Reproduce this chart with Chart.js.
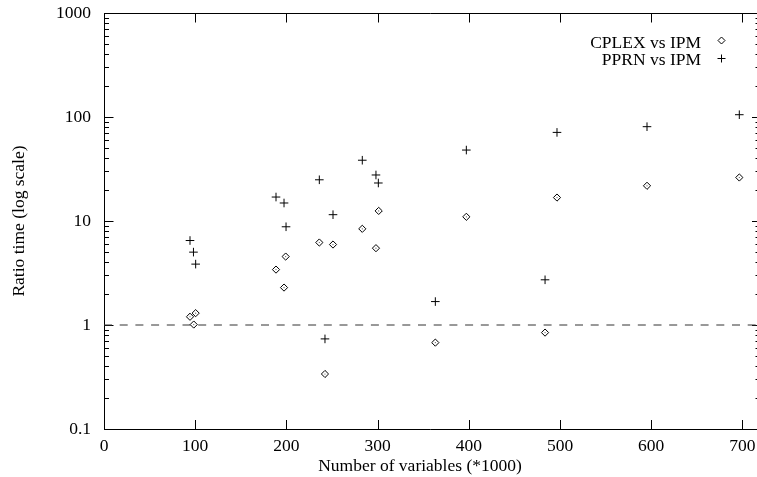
<!DOCTYPE html>
<html>
<head>
<meta charset="utf-8">
<script src="https://cdn.jsdelivr.net/npm/chart.js@4.4.1/dist/chart.umd.min.js"></script>
<style>
html,body{margin:0;padding:0;background:#fff;}
#wrap{width:757px;height:477px;}
</style>
</head>
<body>
<div id="wrap"><canvas id="c" width="757" height="477"></canvas></div>
<script>
// ---- data ----
const cplexX = [94.3, 98.4, 100.5, 188.6, 197.4, 199.2, 236.1, 242.3, 251.1, 283.2, 298.2, 301.2, 363.3, 397.3, 483.6, 496.7, 595.4, 696.6];
const cplexY = [1.20, 1.01, 1.30, 3.41, 2.29, 4.55, 6.21, 0.338, 5.94, 8.41, 5.48, 12.5, 0.677, 10.97, 0.845, 16.8, 21.8, 26.2];
const pprnX  = [94.3, 98.1, 100.5, 188.6, 197.4, 199.6, 236.1, 242.3, 251.1, 283.2, 298.2, 300.8, 363.3, 397.3, 483.6, 496.7, 595.4, 696.6];
const pprnY  = [6.49, 5.02, 3.85, 17.0, 14.9, 8.8, 24.9, 0.735, 11.5, 38.4, 27.7, 23.2, 1.68, 48.1, 2.72, 71.1, 80.7, 105.2];
const xTicks = [0, 100, 200, 300, 400, 500, 600, 700];
const yTicks = [0.1, 1, 10, 100, 1000];
const seriesNames = ['CPLEX vs IPM', 'PPRN vs IPM'];
const xTitle = 'Number of variables (*1000)';
const yTitle = 'Ratio time (log scale)';
const refLine = 1;
const xMin = 0, xMax = 716;

const FONT = '"Liberation Serif", "Times New Roman", serif';
const INK = '#000';
const FS = 17.5;

const pts = (xs, ys) => xs.map((x, i) => ({x: x, y: ys[i]}));

const framePlugin = {
  id: 'frame',
  beforeDatasetsDraw(chart) {
    const {ctx, chartArea: a} = chart;
    const xs = chart.scales.x, ys = chart.scales.y;
    ctx.save();
    ctx.strokeStyle = INK;
    ctx.lineWidth = 1;
    ctx.beginPath();
    ctx.moveTo(a.left + 0.5, a.top + 0.5);
    ctx.lineTo(a.left + 0.5, a.bottom + 0.5);
    ctx.lineTo(a.right, a.bottom + 0.5);
    ctx.moveTo(a.left + 0.5, a.top + 0.5);
    ctx.lineTo(a.right, a.top + 0.5);
    xTicks.forEach(v => {
      const px = Math.round(xs.getPixelForValue(v)) + 0.5;
      ctx.moveTo(px, a.bottom + 0.5); ctx.lineTo(px, a.bottom - 9);
      ctx.moveTo(px, a.top + 0.5); ctx.lineTo(px, a.top + 9.5);
    });
    for (let i = 0; i < yTicks.length; i++) {
      const d = yTicks[i];
      const py = Math.round(ys.getPixelForValue(d)) + 0.5;
      ctx.moveTo(a.left, py); ctx.lineTo(a.left + 9.5, py);
      ctx.moveTo(a.right, py); ctx.lineTo(a.right - 5, py);
      if (i < yTicks.length - 1) {
        for (let k = 2; k <= 9; k++) {
          const pm = Math.round(ys.getPixelForValue(d * k)) + 0.5;
          ctx.moveTo(a.left, pm); ctx.lineTo(a.left + 5, pm);
          ctx.moveTo(a.right, pm); ctx.lineTo(a.right - 1.5, pm);
        }
      }
    }
    ctx.stroke();
    ctx.restore();
  },
  afterDraw(chart) {
    const {ctx, chartArea: a} = chart;
    ctx.save();
    ctx.fillStyle = INK;
    ctx.font = FS + 'px ' + FONT;
    ctx.textAlign = 'center';
    ctx.textBaseline = 'middle';
    ctx.fillText(xTitle, 420, 466);
    ctx.save();
    ctx.translate(19, (a.top + a.bottom) / 2);
    ctx.rotate(-Math.PI / 2);
    ctx.fillText(yTitle, 0, 0);
    ctx.restore();
    ctx.textAlign = 'right';
    ctx.fillText(seriesNames[0], 701, 43);
    ctx.fillText(seriesNames[1], 701, 60);
    ctx.strokeStyle = INK;
    ctx.lineWidth = 1;
    const dx = 721.5, dy = 40.5, r = 3.5;
    ctx.beginPath();
    ctx.moveTo(dx, dy - r); ctx.lineTo(dx + r, dy); ctx.lineTo(dx, dy + r); ctx.lineTo(dx - r, dy); ctx.closePath();
    ctx.stroke();
    const cx = 721.5, cy = 58.5, s = 4;
    ctx.beginPath();
    ctx.moveTo(cx - s, cy); ctx.lineTo(cx + s, cy);
    ctx.moveTo(cx, cy - s); ctx.lineTo(cx, cy + s);
    ctx.stroke();
    ctx.restore();
  }
};

new Chart(document.getElementById('c'), {
  type: 'scatter',
  data: {
    datasets: [
      {
        label: seriesNames[0],
        data: pts(cplexX, cplexY),
        pointStyle: 'rectRot',
        pointRadius: 3.6,
        borderColor: INK,
        backgroundColor: 'rgba(255,255,255,0)',
        borderWidth: 1,
        order: 1
      },
      {
        label: 'dots',
        data: pts(cplexX, cplexY),
        pointStyle: 'circle',
        pointRadius: 0.6,
        borderWidth: 0,
        backgroundColor: '#555',
        order: 0
      },
      {
        label: seriesNames[1],
        data: pts(pprnX, pprnY),
        pointStyle: 'cross',
        pointRadius: 4.3,
        borderColor: INK,
        borderWidth: 1,
        order: 2
      },
      {
        type: 'line',
        label: 'ref',
        data: [{x: xMin, y: refLine}, {x: xMax, y: refLine}],
        borderColor: '#333',
        borderWidth: 1,
        borderDash: [8, 7.7],
        pointRadius: 0,
        fill: false,
        order: 10
      }
    ]
  },
  options: {
    responsive: false,
    animation: false,
    events: [],
    layout: {autoPadding: false, padding: {top: 13, right: 0, left: 0, bottom: 0}},
    plugins: {legend: {display: false}, tooltip: {enabled: false}},
    scales: {
      x: {
        type: 'linear',
        min: xMin, max: xMax,
        afterFit: s => { s.height = 48; s.paddingLeft = 0; s.paddingRight = 0; s.paddingTop = 0; s.paddingBottom = 0; },
        afterBuildTicks: s => { s.ticks = xTicks.map(v => ({value: v})); },
        grid: {display: false, drawTicks: false},
        border: {display: false},
        ticks: {color: INK, font: {family: FONT, size: FS}, padding: 7, maxRotation: 0, autoSkip: false,
                callback: v => String(v)}
      },
      y: {
        type: 'logarithmic',
        min: 0.1, max: 1000,
        afterFit: s => { s.width = 104; s.paddingLeft = 0; s.paddingRight = 0; s.paddingTop = 0; s.paddingBottom = 0; },
        afterBuildTicks: s => { s.ticks = yTicks.map(v => ({value: v})); },
        grid: {display: false, drawTicks: false},
        border: {display: false},
        ticks: {color: INK, font: {family: FONT, size: FS}, padding: 13, autoSkip: false,
                callback: v => String(v)}
      }
    }
  },
  plugins: [framePlugin]
});
</script>
</body>
</html>
